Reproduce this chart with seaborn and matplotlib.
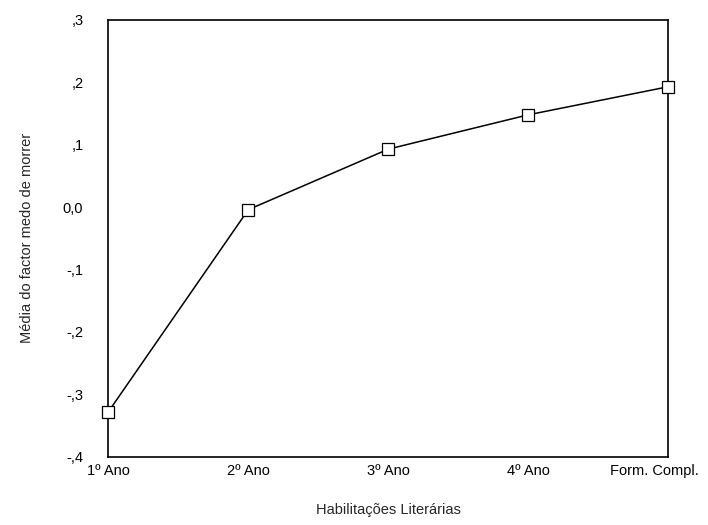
import numpy as np
import pandas as pd
import matplotlib.pyplot as plt
import matplotlib.transforms as mtransforms
import seaborn as sns

# ── Data ─────────────────────────────────────────────────────────────────────
grupos = ["1º Ano", "2º Ano", "3º Ano", "4º Ano", "Form. Compl."]
medias = [-0.328, -0.004, 0.093, 0.148, 0.193]
y_ticks = [0.3, 0.2, 0.1, 0.0, -0.1, -0.2, -0.3, -0.4]
y_labels = [",3", ",2", ",1", "0,0", "-,1", "-,2", "-,3", "-,4"]

df = pd.DataFrame({"grupo": grupos, "media": medias})

sns.set_theme(style="white")
plt.rcParams["font.family"] = ["Liberation Sans", "DejaVu Sans"]

fig = plt.figure(figsize=(7.08, 5.25), dpi=100)
ax = fig.add_axes([0.153, 0.13, 0.791, 0.832])

sns.lineplot(data=df, x="grupo", y="media", sort=False, ax=ax,
             color="black", linewidth=1.1, marker="s", markersize=8,
             markerfacecolor="white", markeredgecolor="black", markeredgewidth=0.9,
             clip_on=False, zorder=5)

ax.set_xlim(0, len(grupos) - 1)
ax.set_ylim(-0.4, 0.3)
ax.set_yticks(y_ticks)
ax.set_yticklabels(y_labels)

for s in ax.spines.values():
    s.set_color("black")
    s.set_linewidth(1.2)

ax.tick_params(axis="both", direction="inout", length=4, width=2, color="black",
               labelsize=10.5, labelcolor="black")
ax.tick_params(axis="y", pad=16)
ax.tick_params(axis="x", pad=3)

# last category label sits a bit to the left, as in the original
last = ax.get_xticklabels()[-1]
last.set_transform(last.get_transform() +
                   mtransforms.ScaledTranslation(-0.14, 0, fig.dpi_scale_trans))

ax.set_xlabel("Habilitações Literárias", fontsize=10.5, labelpad=18)
ax.set_ylabel("Média do factor medo de morrer", fontsize=10.5, labelpad=21)

fig.savefig("out.png", dpi=100)
plt.close()
